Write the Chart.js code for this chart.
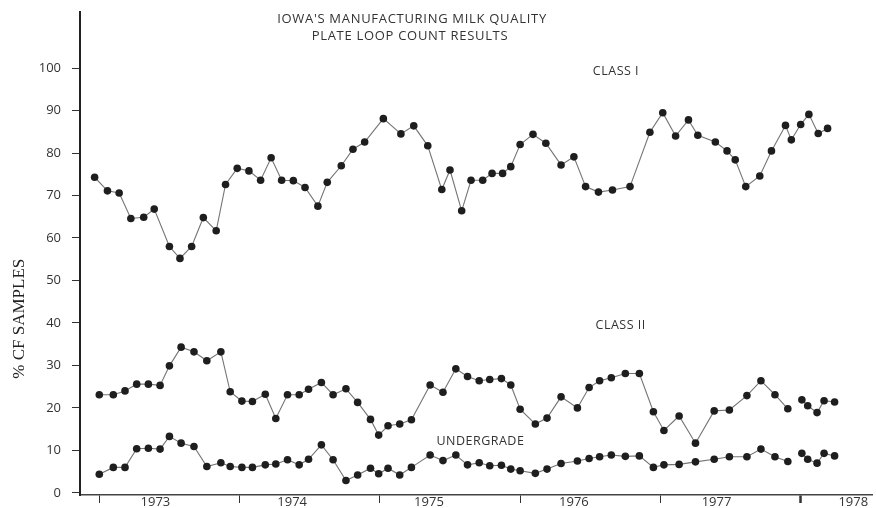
<!DOCTYPE html>
<html>
<head>
<meta charset="utf-8">
<script src="https://cdn.jsdelivr.net/npm/chart.js@4.4.1/dist/chart.umd.min.js"></script>
<style>
  html, body { margin: 0; padding: 0; background: #fff; }
</style>
</head>
<body>
<canvas id="chart" width="876" height="508"></canvas>
<script>
// x values are months counted from the start of 1973, read against the year ticks
const classOneMonths = [
  -0.4, 0.7, 1.7, 2.7, 3.8, 4.7, 6.0, 6.9, 7.9, 8.9, 10.0, 10.8, 11.8, 12.8, 13.8, 14.7,
  15.6, 16.6, 17.6, 18.7, 19.5, 20.7, 21.7, 22.7, 24.3, 25.8, 26.9, 28.1, 29.3, 30.0, 31.0,
  31.8, 32.8, 33.6, 34.5, 35.2, 36.0, 37.1, 38.2, 39.5, 40.6, 41.6, 42.7, 43.9, 45.4, 47.1, 48.2, 49.3,
  50.4, 51.2, 52.7, 53.7, 54.4, 55.3, 56.5, 57.5, 58.7, 59.2, 60.0, 60.7, 61.5, 62.3
]
const classOneValues = [
  74.3, 71.1, 70.6, 64.6, 64.9, 66.8, 58.0, 55.2, 58.0, 64.8, 61.7, 72.6, 76.4, 75.8, 73.6, 78.9,
  73.6, 73.5, 71.9, 67.5, 73.1, 77.0, 80.9, 82.6, 88.1, 84.5, 86.4, 81.7, 71.4, 76.0, 66.4,
  73.6, 73.6, 75.2, 75.2, 76.8, 82.0, 84.4, 82.3, 77.2, 79.1, 72.1, 70.8, 71.3, 72.1, 84.9, 89.5, 84.0,
  87.8, 84.2, 82.6, 80.5, 78.4, 72.1, 74.6, 80.5, 86.5, 83.1, 86.7, 89.1, 84.6, 85.8
]

// Class II and undergrade share sample months; null marks the break before 1978
const sampleMonths = [
  0, 1.2, 2.2, 3.2, 4.2, 5.2, 6.0, 7.0, 8.1, 9.2, 10.4, 11.2, 12.2, 13.1, 14.2, 15.1,
  16.1, 17.1, 17.9, 19.0, 20.0, 21.1, 22.1, 23.2, 23.9, 24.7, 25.7, 26.7, 28.3, 29.4, 30.5, 31.5,
  32.5, 33.4, 34.4, 35.2, 36.0, 37.3, 38.3, 39.5, 40.9, 41.9, 42.8, 43.8, 45.0, 46.2, 47.4, 48.3,
  49.6, 51.0, 52.6, 53.9, 55.4, 56.6, 57.8, 58.9, 59.5, 60.1, 60.6, 61.4, 62.0, 62.9
]
const classTwoValues = [
  23.1, 23.1, 24.0, 25.6, 25.6, 25.3, 29.9, 34.3, 33.2, 31.1, 33.2, 23.8, 21.6, 21.5, 23.2, 17.5,
  23.1, 23.1, 24.4, 26.0, 23.1, 24.5, 21.3, 17.3, 13.6, 15.8, 16.2, 17.2, 25.4, 23.7, 29.2, 27.4,
  26.4, 26.7, 26.9, 25.4, 19.7, 16.2, 17.6, 22.6, 20.0, 24.8, 26.4, 27.1, 28.1, 28.1, 19.1, 14.7,
  18.1, 11.7, 19.3, 19.5, 22.9, 26.4, 23.1, 19.8, null, 21.9, 20.5, 18.9, 21.7, 21.4
]
const undergradeValues = [
  4.4, 6.0, 6.0, 10.4, 10.5, 10.3, 13.3, 11.7, 10.9, 6.2, 7.1, 6.2, 6.0, 6.0, 6.6, 6.8,
  7.8, 6.6, 7.9, 11.3, 7.8, 2.9, 4.2, 5.8, 4.5, 5.8, 4.2, 6.0, 8.9, 7.6, 8.9, 6.6,
  7.1, 6.4, 6.5, 5.6, 5.2, 4.6, 5.6, 6.9, 7.5, 8.1, 8.5, 8.9, 8.6, 8.7, 6.0, 6.6,
  6.7, 7.3, 7.9, 8.5, 8.5, 10.3, 8.5, 7.4, null, 9.3, 7.9, 7.0, 9.3, 8.7
]

const yTicks = [0, 10, 20, 30, 40, 50, 60, 70, 80, 90, 100]
const yearBoundaries = [0, 12, 24, 36, 48, 60]
const yearLabels = ["1973", "1974", "1975", "1976", "1977", "1978"]
const yearLabelMonths = [4.8, 16.5, 28.2, 40.6, 52.8, 64.5]

const titleLines = ["IOWA'S MANUFACTURING MILK QUALITY", "PLATE LOOP COUNT RESULTS"]
const seriesNotes = [
  { text: "CLASS I", month: 44.2, value: 99.1 },
  { text: "CLASS II", month: 44.6, value: 39.3 },
  { text: "UNDERGRADE", month: 32.6, value: 12.2 }
]

const toPoints = (xs, ys) => xs.map((x, i) => ({ x: x, y: ys[i] }))

const lineStyle = {
  borderColor: "#747474",
  borderWidth: 1.1,
  pointRadius: 3.8,
  pointBackgroundColor: "#1e1e1e",
  pointBorderWidth: 0,
  tension: 0,
  spanGaps: false
}

const textLayer = {
  id: "textLayer",
  afterDraw(chart) {
    const { ctx, scales } = chart
    ctx.save()
    ctx.fillStyle = "#333"
    ctx.textAlign = "center"
    ctx.textBaseline = "middle"
    ctx.font = '13px "Open Sans"'
    ctx.letterSpacing = "0.7px"
    ctx.fillText(titleLines[0], 412, 19)
    ctx.fillText(titleLines[1], 410, 36)

    ctx.font = '12.5px "Open Sans"'
    ctx.letterSpacing = "0.5px"
    seriesNotes.forEach(n => {
      ctx.fillText(n.text, scales.x.getPixelForValue(n.month), scales.y.getPixelForValue(n.value))
    })

    ctx.letterSpacing = "0px"
    ctx.fillStyle = "#222"
    ctx.font = '17px "Liberation Serif"'
    ctx.translate(20, scales.y.getPixelForValue(41))
    ctx.rotate(-Math.PI / 2)
    ctx.fillText("% CF SAMPLES", 0, 0)
    ctx.restore()
  }
}

new Chart(document.getElementById("chart"), {
  type: "line",
  data: {
    datasets: [
      { label: "Class I", data: toPoints(classOneMonths, classOneValues), ...lineStyle },
      { label: "Class II", data: toPoints(sampleMonths, classTwoValues), ...lineStyle },
      { label: "Undergrade", data: toPoints(sampleMonths, undergradeValues), ...lineStyle }
    ]
  },
  options: {
    responsive: false,
    animation: false,
    devicePixelRatio: 1,
    layout: { padding: { top: 12, right: 0, left: 0, bottom: 0 } },
    plugins: {
      legend: { display: false },
      tooltip: { enabled: false }
    },
    scales: {
      x: {
        type: "linear",
        min: -1.65,
        max: 66.1,
        afterBuildTicks: (scale) => {
          const marks = yearBoundaries.map(v => ({ value: v }))
          const labels = yearLabelMonths.map((v, i) => ({ value: v, year: yearLabels[i] }))
          scale.ticks = marks.concat(labels).sort((a, b) => a.value - b.value)
        },
        afterFit: (scale) => {
          scale.height = 13
          scale.paddingLeft = 0
          scale.paddingRight = 0
        },
        border: { color: "#444", width: 1.4 },
        grid: {
          drawOnChartArea: false,
          tickLength: 8,
          tickColor: (ctx) => (ctx.tick && ctx.tick.year ? "rgba(0,0,0,0)" : "#333"),
          tickWidth: (ctx) => (ctx.tick && ctx.tick.value === 60 ? 2.5 : 1)
        },
        ticks: {
          autoSkip: false,
          maxRotation: 0,
          padding: -9,
          color: "#333",
          font: { family: "Open Sans", size: 13 },
          callback: (value, index, ticks) => ticks[index].year || ""
        }
      },
      y: {
        type: "linear",
        min: -0.5,
        max: 113.2,
        afterBuildTicks: (scale) => { scale.ticks = yTicks.map(v => ({ value: v })) },
        afterFit: (scale) => {
          scale.width = 80
          scale.paddingTop = 0
          scale.paddingBottom = 0
        },
        border: { color: "#222", width: 2 },
        grid: {
          drawOnChartArea: false,
          tickLength: 8,
          tickColor: "#333"
        },
        ticks: {
          padding: 11,
          color: "#333",
          font: { family: "Open Sans", size: 13 }
        }
      }
    }
  },
  plugins: [textLayer]
})
</script>
</body>
</html>
